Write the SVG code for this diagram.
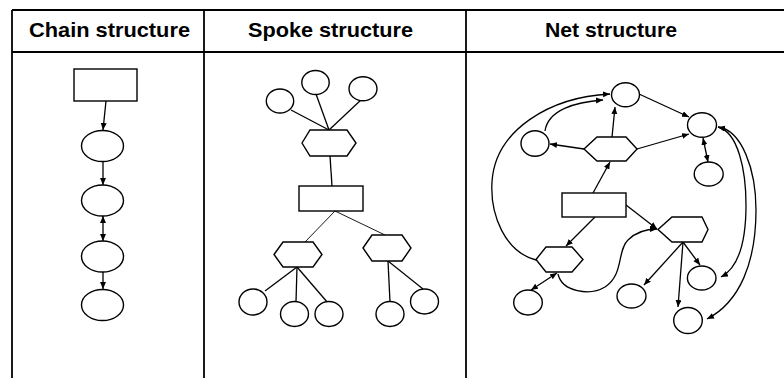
<svg xmlns="http://www.w3.org/2000/svg" width="784" height="378" viewBox="0 0 784 378">
<defs>
<style>
.grid{stroke:#000;stroke-width:1.8;fill:none}
.hdr{font-family:"Liberation Sans",Arial,sans-serif;font-weight:bold;font-size:20.5px;fill:#000}
.n{fill:#fff;stroke:#000;stroke-width:1.4}
.c{fill:none;stroke:#000;stroke-width:1.3}
.t{fill:none;stroke:#000;stroke-width:0.9}
.a{marker-end:url(#ah)}
.b{marker-start:url(#ah);marker-end:url(#ah)}
</style>
<marker id="ah" markerUnits="userSpaceOnUse" markerWidth="8" markerHeight="7" refX="7" refY="3" orient="auto-start-reverse">
<path d="M0,0 L7,3 L0,6 z" fill="#000"/>
</marker>
</defs>
<rect width="784" height="378" fill="#fff"/>
<g id="table">
<line class="grid" x1="12" y1="10" x2="784" y2="10"/>
<line class="grid" x1="12" y1="52" x2="784" y2="52"/>
<line class="grid" x1="12" y1="10" x2="12" y2="378"/>
<line class="grid" x1="204" y1="10" x2="204" y2="378"/>
<line class="grid" x1="466" y1="10" x2="466" y2="378"/>
<text class="hdr" x="29" y="37" textLength="161" lengthAdjust="spacingAndGlyphs">Chain structure</text>
<text class="hdr" x="248" y="37" textLength="165" lengthAdjust="spacingAndGlyphs">Spoke structure</text>
<text class="hdr" x="545" y="37" textLength="132" lengthAdjust="spacingAndGlyphs">Net structure</text>
</g>
<g id="connectors">
<!-- chain -->
<path class="c a" d="M106,101 L103,130"/>
<path class="c a" d="M103,161 L103,185"/>
<path class="c b" d="M103,216 L103,241"/>
<path class="c a" d="M103,272 L103,289"/>
<!-- spoke -->
<path class="c" d="M291,110 L329,130"/>
<path class="c" d="M316,94 L329,130"/>
<path class="c" d="M362,99 L329,130"/>
<path class="c" d="M330,156 L332,186"/>
<path class="t" d="M335,211 L305,242"/>
<path class="t" d="M335,211 L385,235"/>
<path class="c" d="M297,267 L265,291"/>
<path class="c" d="M297,267 L296,302"/>
<path class="c" d="M297,267 L328,303"/>
<path class="c" d="M388,261 L390,302"/>
<path class="c" d="M388,261 L423,289"/>
<!-- net -->
<path class="c a" d="M639,94 L689,117"/>
<path class="c a" d="M637,149 L689,134"/>
<path class="c a" d="M612,137 L615,107"/>
<path class="c a" d="M584,149 L550,144"/>
<path class="c a" d="M593,193 L610,162"/>
<path class="c b" d="M703,138 L708,162"/>
<path class="c a" d="M595,217 L566,246"/>
<path class="c a" d="M626,205 L657,229"/>
<path class="c a" d="M683,242 L644,285"/>
<path class="c a" d="M683,242 L678,307"/>
<path class="c a" d="M683,242 L700,265"/>
<path class="c b" d="M557,273 L531,290"/>
<path class="c a" d="M545,131 C548,110 575,102 603,100"/>
<path class="c a" d="M536,260 C505,252 490,215 492,182 C495,130 550,97 610,94"/>
<path class="c a" d="M558,274 C562,292 590,296 605,287 C624,275 617,250 628,240 C636,232 645,229 657,229"/>
<path class="c b" d="M718,127 C738,132 746,170 746,205 C746,245 738,268 721,277"/>
<path class="c a" d="M718,127 C742,130 756,170 756,210 C756,262 740,302 707,319"/>
</g>
<g id="chain-rect"><rect class="n" x="74" y="69" width="63" height="32"/></g>
<g id="chain-e1"><ellipse class="n" cx="102.5" cy="146" rx="21" ry="15.5"/></g>
<g id="chain-e2"><ellipse class="n" cx="102.5" cy="200.5" rx="21" ry="15.5"/></g>
<g id="chain-e3"><ellipse class="n" cx="102.5" cy="256.5" rx="21" ry="15.5"/></g>
<g id="chain-e4"><ellipse class="n" cx="102.5" cy="305" rx="21" ry="15.5"/></g>
<g id="spoke-c1"><ellipse class="n" cx="280" cy="101" rx="13.7" ry="12"/></g>
<g id="spoke-c2"><ellipse class="n" cx="315.5" cy="82.5" rx="13.7" ry="12"/></g>
<g id="spoke-c3"><ellipse class="n" cx="363" cy="88.7" rx="14" ry="12"/></g>
<g id="spoke-hex-top"><polygon class="n" points="302,143 310,130 347,130 356,143 347,156 310,156"/></g>
<g id="spoke-rect"><rect class="n" x="299" y="186" width="64" height="25"/></g>
<g id="spoke-hex-left"><polygon class="n" points="274,254.5 283,242 313,242 322,254.5 313,267 283,267"/></g>
<g id="spoke-hex-right"><polygon class="n" points="363,248 372,235 402,235 411,248 402,261 372,261"/></g>
<g id="spoke-l1"><ellipse class="n" cx="253" cy="302" rx="14" ry="13"/></g>
<g id="spoke-l2"><ellipse class="n" cx="294.5" cy="314" rx="14" ry="12.5"/></g>
<g id="spoke-l3"><ellipse class="n" cx="329" cy="314" rx="14" ry="12.5"/></g>
<g id="spoke-r1"><ellipse class="n" cx="390" cy="314" rx="14" ry="12.5"/></g>
<g id="spoke-r2"><ellipse class="n" cx="424.5" cy="301.5" rx="14" ry="12.5"/></g>
<g id="net-top"><ellipse class="n" cx="625.5" cy="94.7" rx="14" ry="12"/></g>
<g id="net-right"><ellipse class="n" cx="702" cy="125" rx="14.5" ry="12.3"/></g>
<g id="net-rb"><ellipse class="n" cx="708.7" cy="174" rx="14.5" ry="12"/></g>
<g id="net-left"><ellipse class="n" cx="535" cy="143.5" rx="14" ry="12.7"/></g>
<g id="net-hex1"><polygon class="n" points="584,149 597,137 626,137 637,149 626,161 597,161"/></g>
<g id="net-rect"><rect class="n" x="562" y="193" width="64" height="24"/></g>
<g id="net-hex2"><polygon class="n" points="536,259.5 546,247 572,247 583,259.5 572,272 546,272"/></g>
<g id="net-hex3"><polygon class="n" points="658,229.5 672,217 702,217 708,229.5 702,242 672,242"/></g>
<g id="net-ll"><ellipse class="n" cx="528" cy="302.5" rx="14.3" ry="12.5"/></g>
<g id="net-m"><ellipse class="n" cx="631.5" cy="296" rx="14.5" ry="12"/></g>
<g id="net-br1"><ellipse class="n" cx="701.7" cy="278" rx="14.3" ry="12"/></g>
<g id="net-br2"><ellipse class="n" cx="688" cy="320.5" rx="14.3" ry="13"/></g>
</svg>
